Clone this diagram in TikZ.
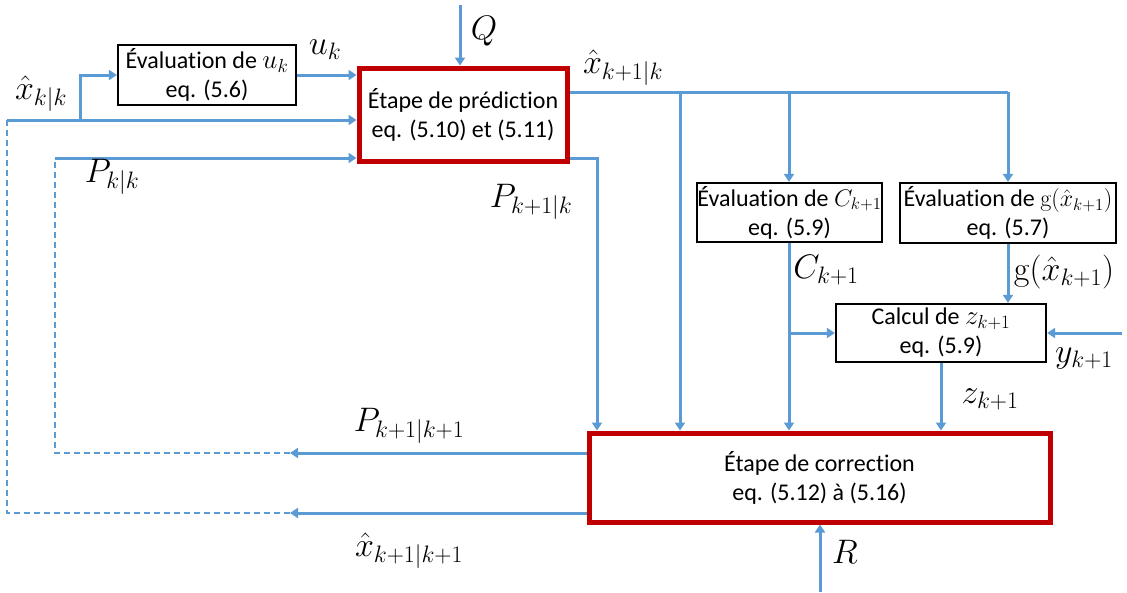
\RequirePackage{fix-cm}
\documentclass[tikz,border=0pt]{standalone}
\usepackage[no-math]{fontspec}
\setmainfont{Carlito}[Ligatures=NoCommon]
\usetikzlibrary{arrows.meta}
\definecolor{flow}{HTML}{5B9BD5}
\definecolor{stepred}{HTML}{C00000}
\newcommand\boxmath[1]{{\fontsize{27}{29}\selectfont$#1$}}
\begin{document}
\begin{tikzpicture}[x=1pt,y=-1pt,
  flowline/.style={draw=flow,line width=3pt},
  arr/.style={flowline,-{Triangle[width=10pt,length=8pt]}},
  dashline/.style={draw=flow,line width=1.8pt,dash pattern=on 6pt off 4pt},
  evalbox/.style={draw=black,line width=2.2pt,fill=white,align=center,inner sep=0pt,
    font=\fontsize{24}{29}\selectfont},
  stepbox/.style={draw=stepred,line width=5pt,fill=white,align=center,inner sep=0pt,
    font=\fontsize{24}{29}\selectfont},
  lbl/.style={font=\fontsize{34}{40}\selectfont,inner sep=0pt}]
\useasboundingbox (0,0) rectangle (1127,592);

% boxes
\node[evalbox,minimum width=178pt,minimum height=60pt] (evu) at (207,75) {Évaluation de \boxmath{u_k}\\eq. (5.6)};
\node[stepbox,minimum width=208pt,minimum height=93pt] (pred) at (463,114.5) {Étape de prédiction\\eq. (5.10) et (5.11)};
\node[evalbox,minimum width=185pt,minimum height=59pt] (evC) at (789.5,212.5) {Évaluation de $C_{k+1}$\\eq. (5.9)};
\node[evalbox,minimum width=216pt,minimum height=60pt] (evg) at (1008,213) {Évaluation de $\mathrm{g}(\hat{x}_{k+1})$\\eq. (5.7)};
\node[evalbox,minimum width=210pt,minimum height=58pt] (calc) at (941,333) {Calcul de \boxmath{z_{k+1}}\\eq. (5.9)};
\node[stepbox,minimum width=461pt,minimum height=89pt] (corr) at (819.5,477.5) {Étape de correction\\eq. (5.12) à (5.16)};

% free ends
\coordinate (xin) at (7,120);
\coordinate (jx) at (80,120);
\coordinate (pin) at (55,158);
\coordinate (qtop) at (460,5);
\coordinate (pout) at (290,453);
\coordinate (xout) at (290,513);
\coordinate (px) at (55,453);
\coordinate (xx) at (7,513);
\coordinate (ctop) at (680,92);
\coordinate (cC) at (789,92);
\coordinate (cg) at (1008,92);
\coordinate (cP) at (597,158);
\coordinate (jc) at (789,333);
\coordinate (yin) at (1122,333);
\coordinate (rbot) at (820,592);

% inputs of prediction
\draw[arr] (xin) -- (xin -| pred.west);
\draw[arr] (jx) |- (evu.west);
\draw[arr] (evu.east) -- (evu.east -| pred.west);
\draw[arr] (pin) -- (pin -| pred.west);
\draw[arr] (qtop) -- (qtop |- pred.north);

% outputs of prediction
\draw[flowline] (pred.east |- cg) -- (cg);
\draw[arr] (ctop) -- (ctop |- corr.north);
\draw[arr] (cC) -- (cC |- evC.north);
\draw[arr] (cg) -- (evg.north);
\draw[arr] (pred.east |- cP) -- (cP) -- (cP |- corr.north);

% evaluation branches
\draw[arr] (evC.south -| jc) -- (jc |- corr.north);
\draw[arr] (jc) -- (calc.west);
\draw[arr] (evg.south) -- (calc.north -| evg.south);
\draw[arr] (yin) -- (calc.east);
\draw[arr] (calc.south) -- (calc.south |- corr.north);
\draw[arr] (rbot) -- (rbot |- corr.south);

% feedback
\draw[arr] (corr.west |- pout) -- (pout);
\draw[arr] (corr.west |- xout) -- (xout);
\draw[dashline] (pout) -- (px) -- (pin);
\draw[dashline] (xout) -- (xx) -- (xin);

% labels
\node[lbl] (lxkk) at (41,94) {$\hat{x}_{k|k}$};
\node[lbl] (luk) at (325,50) {$u_k$};
\node[lbl] (lQ) at (484,31) {$Q$};
\node[lbl] (lxk1k) at (623,68) {$\hat{x}_{k+1|k}$};
\node[lbl] (lPkk) at (112,177) {$P_{k|k}$};
\node[lbl] (lPk1k) at (531,202) {$P_{k+1|k}$};
\node[lbl] (lC) at (826,270) {$C_{k+1}$};
\node[lbl] (lg) at (1064,272) {$\mathrm{g}(\hat{x}_{k+1})$};
\node[lbl] (ly) at (1084,358) {$y_{k+1}$};
\node[lbl] (lz) at (990,399) {$z_{k+1}$};
\node[lbl] (lPk1) at (409,426) {$P_{k+1|k+1}$};
\node[lbl] (lxk1) at (409,551) {$\hat{x}_{k+1|k+1}$};
\node[lbl] (lR) at (845,552) {$R$};
\end{tikzpicture}
\end{document}
